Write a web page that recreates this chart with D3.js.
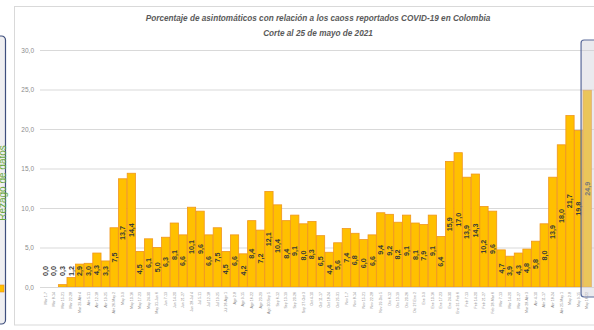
<!DOCTYPE html>
<html>
<head>
<meta charset="utf-8">
<script src="https://cdn.jsdelivr.net/npm/d3@7"></script>
<style>
  html, body { margin: 0; padding: 0; background: #ffffff; }
  svg { display: block; }
</style>
</head>
<body>
<svg id="chart" width="594" height="330"></svg>
<script>
// Weekly periods (2020-2021)
const weeks = [
  "Mar 1-7","Mar 8-14","Mar 15-21","Mar 22-28","Mar 29-Abr 4","Abr 5-11","Abr 12-18","Abr 19-25",
  "Abr 26-May 2","May 3-9","May 10-16","May 17-23","May 24-30","May 31-Jun 6","Jun 7-13","Jun 14-20",
  "Jun 21-27","Jun 28-Jul 4","Jul 5-11","Jul 12-18","Jul 19-25","Jul 26-Ago 1","Ago 2-8","Ago 9-15",
  "Ago 16-22","Ago 23-29","Ago 30-Sep 5","Sep 6-12","Sep 13-19","Sep 20-26","Sep 27-Oct 3","Oct 4-10",
  "Oct 11-17","Oct 18-24","Oct 25-31","Nov 1-7","Nov 8-14","Nov 15-21","Nov 22-28","Nov 29-Dic 5",
  "Dic 6-12","Dic 13-19","Dic 20-26","Dic 27-Ene 2","Ene 3-9","Ene 10-16","Ene 17-23","Ene 24-30",
  "Ene 31-Feb 6","Feb 7-13","Feb 14-20","Feb 21-27","Feb 28-Mar 6","Mar 7-13","Mar 14-20","Mar 21-27",
  "Mar 28-Abr 3","Abr 4-10","Abr 11-17","Abr 18-24","Abr 25-May 1","May 2-8","May 9-15","May 16-22"
];

// Percentage of asymptomatic cases per week
const asintomaticos = [
  0.0, 0.0, 0.3, 1.2, 2.9, 3.0, 4.3, 3.3, 7.5, 13.7, 14.4, 4.5, 6.1, 5.0, 6.3, 8.1,
  6.6, 10.1, 9.6, 6.6, 7.5, 4.5, 6.6, 4.2, 8.4, 7.2, 12.1, 10.4, 8.4, 9.1, 8.0, 8.3,
  6.5, 4.4, 5.6, 7.4, 6.8, 6.0, 6.6, 9.4, 9.2, 8.2, 9.1, 8.1, 7.9, 9.1, 6.4, 15.9,
  17.0, 13.9, 14.3, 10.2, 9.6, 4.7, 3.9, 4.3, 4.8, 5.8, 8.0, 13.9, 18.0, 21.7, 19.8, 24.9
];

const yTicks = [0, 5, 10, 15, 20, 25, 30];

const titleLines = [
  "Porcentaje de asintomáticos con relación a los caoss reportados COVID-19 en Colombia",
  "Corte al 25 de mayo de 2021"
];
const rezagoLabel = "Rezago de datos";

const data = weeks.map((w, i) => ({ week: w, value: asintomaticos[i] }));
const fmt = v => d3.format(".1f")(v).replace(".", ",");

const svg = d3.select("#chart");
const FONT = "'Liberation Sans', 'DejaVu Sans', sans-serif";

// Outer chart frame
svg.append("rect")
  .attr("x", 14.5).attr("y", 6.5).attr("width", 600).attr("height", 318.5)
  .attr("fill", "#ffffff").attr("stroke", "#d9d9d9").attr("stroke-width", 1);

// Side panel on the left (data-lag note)
const leftPanel = svg.append("g");
leftPanel.append("rect")
  .attr("x", -10).attr("y", 36).attr("width", 15.5).attr("height", 288).attr("rx", 4)
  .attr("fill", "#efeff1").attr("stroke", "#3f4f7d").attr("stroke-width", 1.2);
leftPanel.append("text")
  .attr("transform", "translate(5.5,183) rotate(-90)")
  .attr("text-anchor", "middle")
  .attr("font-family", FONT).attr("font-size", 10)
  .attr("fill", "#6aaa3f")
  .text(rezagoLabel);
leftPanel.append("rect")
  .attr("x", -2).attr("y", 285).attr("width", 6).attr("height", 7)
  .attr("fill", "#FFC000").attr("stroke", "#ED8B1C").attr("stroke-width", 0.6);

const x = d3.scaleBand()
  .domain(weeks)
  .range([41, 591.5])
  .paddingInner(0.04)
  .paddingOuter(0.02);

const y = d3.scaleLinear().domain([0, 30]).range([287, 50]);

// Gridlines and y tick labels
const yAxis = d3.axisLeft(y).tickValues(yTicks).tickFormat(fmt).tickSize(-560).tickPadding(6);
const gy = svg.append("g").attr("transform", "translate(40,0)").call(yAxis);
gy.select(".domain").remove();
gy.selectAll(".tick line").attr("stroke", "#d9d9d9").attr("stroke-width", 1);
gy.selectAll(".tick text")
  .attr("font-family", FONT).attr("font-size", 6.5).attr("fill", "#8c8c8c");

// Title
svg.append("g").selectAll("text").data(titleLines).join("text")
  .attr("x", 318).attr("y", (d, i) => 21 + i * 14.5)
  .attr("text-anchor", "middle")
  .attr("font-family", FONT).attr("font-size", 8.2)
  .attr("font-style", "italic").attr("font-weight", "bold")
  .attr("fill", "#5a5a5a")
  .text(d => d);

// Bars
svg.append("g").selectAll("rect").data(data).join("rect")
  .attr("x", d => x(d.week))
  .attr("y", d => y(d.value))
  .attr("width", x.bandwidth())
  .attr("height", d => y(0) - y(d.value))
  .attr("fill", "#FFC000")
  .attr("stroke", "#F0961C")
  .attr("stroke-width", 0.8);

// Category axis
const gx = svg.append("g").attr("transform", `translate(0,${y(0)})`)
  .call(d3.axisBottom(x).tickSize(0).tickPadding(0));
gx.select(".domain").attr("stroke", "#d9d9d9");
gx.selectAll(".tick text")
  .attr("transform", "translate(0,5) rotate(-90)")
  .attr("text-anchor", "end")
  .attr("dy", "0.35em").attr("x", 0).attr("y", 0)
  .attr("font-family", FONT).attr("font-size", 3.6).attr("fill", "#8c8c8c");

// Value labels, centred in each bar
svg.append("g").selectAll("text").data(data).join("text")
  .attr("transform", d => {
    const cx = x(d.week) + x.bandwidth() / 2;
    const cy = Math.min(y(d.value / 2), y(0) - 16);
    return `translate(${cx + 2.5},${cy}) rotate(-90)`;
  })
  .attr("text-anchor", "middle")
  .attr("font-family", FONT).attr("font-size", 7.2).attr("font-weight", "bold")
  .attr("fill", "#3a3a3a")
  .text(d => fmt(d.value));

// Highlight box over the most recent week (data still incomplete)
const last = data[data.length - 1];
svg.append("rect")
  .attr("x", x(last.week) - 2).attr("y", 40)
  .attr("width", 30).attr("height", 257).attr("rx", 3)
  .attr("fill", "rgba(205,205,215,0.42)")
  .attr("stroke", "#5a6a9a").attr("stroke-width", 1.2);
</script>
</body>
</html>
